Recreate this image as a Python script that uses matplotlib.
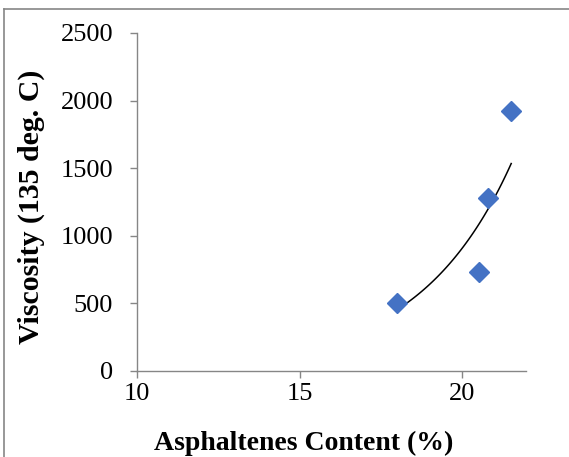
import numpy as np
import matplotlib
matplotlib.use("Agg")
import matplotlib.pyplot as plt
from matplotlib.lines import Line2D

# asphaltenes content (%) vs viscosity at 135 deg C
asphaltenes = [18.0, 20.5, 20.8, 21.5]
viscosity = [500, 735, 1280, 1925]

x_ticks = [10, 15, 20]
y_ticks = [0, 500, 1000, 1500, 2000, 2500]

plt.rcParams['font.family'] = ['Liberation Serif', 'DejaVu Serif']

fig = plt.figure(figsize=(5.69, 4.57), dpi=100)
ax = fig.add_axes([0.2402, 0.1882, 0.684, 0.7396])

# exponential trendline, like the Excel one
b, a = np.polyfit(asphaltenes, np.log(viscosity), 1)
xs = np.linspace(min(asphaltenes), max(asphaltenes), 100)
ax.plot(xs, np.exp(a + b * xs), color='black', lw=1.1, zorder=2)

ax.plot(asphaltenes, viscosity, linestyle='none', marker='D', ms=10,
        color='#4472C4', zorder=3)

ax.set_xlim(10, 21.95)
ax.set_ylim(0, 2500)
ax.set_xticks(x_ticks)
ax.set_yticks(y_ticks)

for side in ['top', 'right']:
    ax.spines[side].set_visible(False)
for side in ['left', 'bottom']:
    ax.spines[side].set_color('#868686')
    ax.spines[side].set_linewidth(1.0)

ax.tick_params(axis='both', direction='out', length=5, width=1.0,
               color='#868686', labelsize=19)
ax.tick_params(axis='y', pad=12)
ax.tick_params(axis='x', pad=4)

fig.text(304 / 569, 1 - 443 / 457, 'Asphaltenes Content (%)', ha='center',
         va='center', fontsize=20, fontweight='bold')
fig.text(31 / 569, 1 - 207 / 457, 'Viscosity (135 deg. C)', ha='center',
         va='center', rotation=90, fontsize=21.5, fontweight='bold')

# chart border (only top and left visible in the crop)
fig.add_artist(Line2D([4 / 569, 1.0], [1 - 9 / 457, 1 - 9 / 457],
                      transform=fig.transFigure, color='#868686', lw=1.2))
fig.add_artist(Line2D([4 / 569, 4 / 569], [0.0, 1 - 9 / 457],
                      transform=fig.transFigure, color='#868686', lw=1.2))

fig.savefig('out.png', dpi=100)
